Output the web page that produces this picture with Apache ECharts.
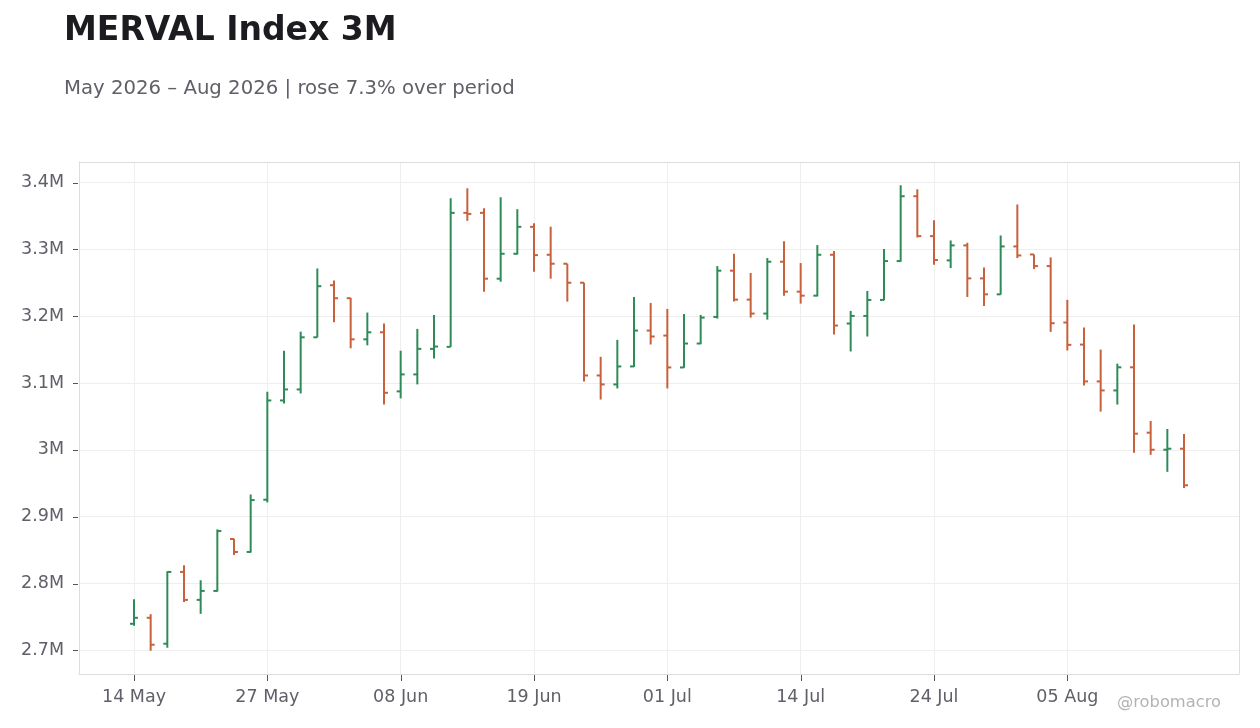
<!DOCTYPE html>
<html>
<head>
<meta charset="utf-8">
<title>MERVAL Index 3M</title>
<script src="https://cdn.jsdelivr.net/npm/echarts@6/dist/echarts.min.js"></script>
<style>
  html, body { margin: 0; padding: 0; background: #fff; }
  #chart { width: 1260px; height: 728px; }
</style>
</head>
<body>
<div id="chart"></div>
<script>
// trading days (Argentine holidays skipped)
const days = [
  '14 May', '15 May', '18 May', '19 May', '20 May', '21 May', '22 May', '26 May',
  '27 May', '28 May', '29 May', '01 Jun', '02 Jun', '03 Jun', '04 Jun', '05 Jun',
  '08 Jun', '09 Jun', '10 Jun', '11 Jun', '12 Jun', '16 Jun', '17 Jun', '18 Jun',
  '19 Jun', '22 Jun', '23 Jun', '24 Jun', '25 Jun', '26 Jun', '29 Jun', '30 Jun',
  '01 Jul', '02 Jul', '03 Jul', '06 Jul', '07 Jul', '08 Jul', '10 Jul', '13 Jul',
  '14 Jul', '15 Jul', '16 Jul', '17 Jul', '20 Jul', '21 Jul', '22 Jul', '23 Jul',
  '24 Jul', '27 Jul', '28 Jul', '29 Jul', '30 Jul', '31 Jul', '03 Aug', '04 Aug',
  '05 Aug', '06 Aug', '07 Aug', '10 Aug', '11 Aug', '12 Aug', '13 Aug', '14 Aug'
]

// values in millions of points
const open = [
  2.7398, 2.7488, 2.7100, 2.8174, 2.7756, 2.7890, 2.8667, 2.8473,
  2.9255, 3.0740, 3.0905, 3.1685, 3.2465, 3.2270, 3.1655, 3.1760,
  3.0876, 3.1130, 3.1512, 3.1542, 3.3547, 3.3547, 3.2562, 3.2935,
  3.3338, 3.2920, 3.2786, 3.2502, 3.1114, 3.0980, 3.1249, 3.1786,
  3.1711, 3.1234, 3.1592, 3.1990, 3.2682, 3.2249, 3.2040, 3.2816,
  3.2368, 3.2308, 3.2920, 3.1891, 3.2005, 3.2244, 3.2826, 3.3796,
  3.3199, 3.2836, 3.3060, 3.2567, 3.2328, 3.3045, 3.2925, 3.2751,
  3.1906, 3.1576, 3.1025, 3.0890, 3.1236, 3.0258, 3.0003, 3.0018
]
const high = [
  2.7766, 2.7542, 2.8184, 2.8274, 2.8050, 2.8811, 2.8672, 2.9333,
  3.0870, 3.1485, 3.1770, 3.2715, 3.2535, 3.2275, 3.2055, 3.1890,
  3.1484, 3.1811, 3.2020, 3.3766, 3.3915, 3.3617, 3.3781, 3.3602,
  3.3393, 3.3340, 3.2786, 3.2502, 3.1393, 3.1647, 3.2289, 3.2199,
  3.2110, 3.2035, 3.2020, 3.2751, 3.2935, 3.2647, 3.2871, 3.3124,
  3.2796, 3.3065, 3.2975, 3.2080, 3.2378, 3.3005, 3.3960, 3.3900,
  3.3438, 3.3134, 3.3100, 3.2731, 3.3209, 3.3672, 3.2925, 3.2881,
  3.2246, 3.1832, 3.1501, 3.1291, 3.1877, 3.0434, 3.0313, 3.0238
]
const low = [
  2.7368, 2.6995, 2.7040, 2.7726, 2.7547, 2.7880, 2.8428, 2.8463,
  2.9215, 3.0695, 3.0845, 3.1685, 3.1910, 3.1520, 3.1565, 3.0680,
  3.0771, 3.0980, 3.1368, 3.1542, 3.3428, 3.2368, 3.2517, 3.2925,
  3.2667, 3.2562, 3.2219, 3.1025, 3.0754, 3.0920, 3.1239, 3.1577,
  3.0920, 3.1229, 3.1582, 3.1965, 3.2219, 3.1980, 3.1950, 3.2308,
  3.2189, 3.2298, 3.1726, 3.1473, 3.1697, 3.2239, 3.2816, 3.3179,
  3.2771, 3.2721, 3.2289, 3.2154, 3.2323, 3.2871, 3.2706, 3.1766,
  3.1487, 3.0965, 3.0574, 3.0679, 2.9957, 2.9927, 2.9672, 2.9431
]
const close = [
  2.7488, 2.7085, 2.8174, 2.7756, 2.7890, 2.8786, 2.8473, 2.9249,
  3.0740, 3.0905, 3.1685, 3.2450, 3.2270, 3.1655, 3.1760, 3.0855,
  3.1130, 3.1512, 3.1547, 3.3547, 3.3532, 3.2562, 3.2935, 3.3338,
  3.2915, 3.2786, 3.2502, 3.1114, 3.0980, 3.1249, 3.1786, 3.1697,
  3.1234, 3.1592, 3.1980, 3.2682, 3.2249, 3.2040, 3.2816, 3.2368,
  3.2308, 3.2920, 3.1861, 3.2005, 3.2244, 3.2826, 3.3796, 3.3199,
  3.2841, 3.3060, 3.2567, 3.2328, 3.3045, 3.2910, 3.2751, 3.1896,
  3.1572, 3.1025, 3.0890, 3.1236, 3.0243, 3.0003, 3.0018, 2.9471
]

const yTicks = [2.7, 2.8, 2.9, 3.0, 3.1, 3.2, 3.3, 3.4]
const labelIdx = [0, 8, 16, 24, 32, 40, 48, 56]

const UP = '#2e8b57'
const DOWN = '#c8603c'
const TICK = '#555'
const FONT = '"DejaVu Sans", sans-serif'
const FRAME = '#dddddd'

const lo = Math.min(...low)
const hi = Math.max(...high)
const pad = (hi - lo) * 0.05
const xMin = -3.3
const xMax = days.length - 1 + 3.3
const yMin = lo - pad
const yMax = hi + pad

const ohlc = days.map((d, i) => [i, open[i], high[i], low[i], close[i]])

const node = document.getElementById('chart')
const myChart = echarts.init(node)

// plain axis used only to close the frame on top / right
const frameAxis = {
	axisLine: { show: true, onZero: false, lineStyle: { color: FRAME } },
	axisTick: { show: false },
	axisLabel: { show: false },
	splitLine: { show: false }
}

const option = {
	animation: false,
	title: [
		{
			text: 'MERVAL Index 3M',
			left: 59,
			top: 10,
			textStyle: { fontFamily: FONT, fontSize: 33, fontWeight: 'bold', color: '#1b1b20' }
		},
		{
			text: 'May 2026 – Aug 2026 | rose 7.3% over period',
			left: 59,
			top: 74,
			textStyle: { fontFamily: FONT, fontSize: 19.7, fontWeight: 'normal', color: '#5f6068' }
		}
	],
	graphic: [
		{
			type: 'text',
			left: 1117,
			top: 695,
			style: { text: '@robomacro', font: '16.3px "DejaVu Sans", sans-serif', fill: '#b3b3b3' }
		}
	],
	grid: {
		left: 79,
		right: 21,
		top: 162,
		bottom: 54
	},
	xAxis: [
		{
			type: 'value',
			position: 'bottom',
			min: xMin,
			max: xMax,
			axisLine: { show: true, onZero: false, lineStyle: { color: FRAME } },
			axisTick: { show: false, customValues: labelIdx },
			axisLabel: {
				customValues: labelIdx,
				margin: 14,
				fontFamily: FONT,
				fontSize: 17.5,
				color: '#5f6068',
				formatter: v => days[Math.round(v)] || ''
			},
			splitLine: { show: true, lineStyle: { color: '#eeeeee' } }
		},
		Object.assign({ type: 'value', position: 'top', min: xMin, max: xMax }, frameAxis)
	],
	yAxis: [
		{
			type: 'value',
			position: 'left',
			min: yMin,
			max: yMax,
			axisLine: { show: true, onZero: false, lineStyle: { color: FRAME } },
			axisTick: { show: false, customValues: yTicks },
			axisLabel: {
				customValues: yTicks,
				margin: 15,
				fontFamily: FONT,
				fontSize: 17.5,
				color: '#5f6068',
				formatter: v => parseFloat(v.toFixed(2)) + 'M'
			},
			splitLine: { show: true, lineStyle: { color: '#eeeeee' } }
		},
		Object.assign({ type: 'value', position: 'right', min: yMin, max: yMax }, frameAxis)
	],
	series: [
		{
			name: 'MERVAL',
			type: 'custom',
			data: ohlc,
			encode: { x: 0, y: [1, 2, 3, 4] },
			renderItem: (params, api) => {
				const x = api.value(0)
				const o = api.coord([x, api.value(1)])
				const h = api.coord([x, api.value(2)])
				const l = api.coord([x, api.value(3)])
				const c = api.coord([x, api.value(4)])
				const color = api.value(4) >= api.value(1) ? UP : DOWN
				const st = { stroke: color, lineWidth: 2 }
				return {
					type: 'group',
					children: [
						{ type: 'line', shape: { x1: h[0], y1: h[1], x2: l[0], y2: l[1] }, style: st },
						{ type: 'line', shape: { x1: o[0] - 4, y1: o[1], x2: o[0], y2: o[1] }, style: st },
						{ type: 'line', shape: { x1: c[0], y1: c[1], x2: c[0] + 4, y2: c[1] }, style: st }
					]
				}
			}
		},
		{
			// y axis tick marks, outside the left edge
			type: 'custom',
			silent: true,
			clip: false,
			data: yTicks.map(v => [xMin, v]),
			renderItem: (params, api) => {
				const p = api.coord([api.value(0), api.value(1)])
				const y = Math.round(p[1]) + 0.5
				return { type: 'line', shape: { x1: p[0] - 6, y1: y, x2: p[0] - 1, y2: y }, style: { stroke: TICK, lineWidth: 1 } }
			}
		},
		{
			// x axis tick marks, under the bottom edge
			type: 'custom',
			silent: true,
			clip: false,
			data: labelIdx.map(i => [i, yMin]),
			renderItem: (params, api) => {
				const p = api.coord([api.value(0), api.value(1)])
				const x = Math.round(p[0]) + 0.5
				return { type: 'line', shape: { x1: x, y1: p[1] + 1, x2: x, y2: p[1] + 7 }, style: { stroke: TICK, lineWidth: 1 } }
			}
		}
	]
}

myChart.setOption(option)

window.addEventListener('resize', () => {
	myChart.resize()
})
</script>
</body>
</html>
